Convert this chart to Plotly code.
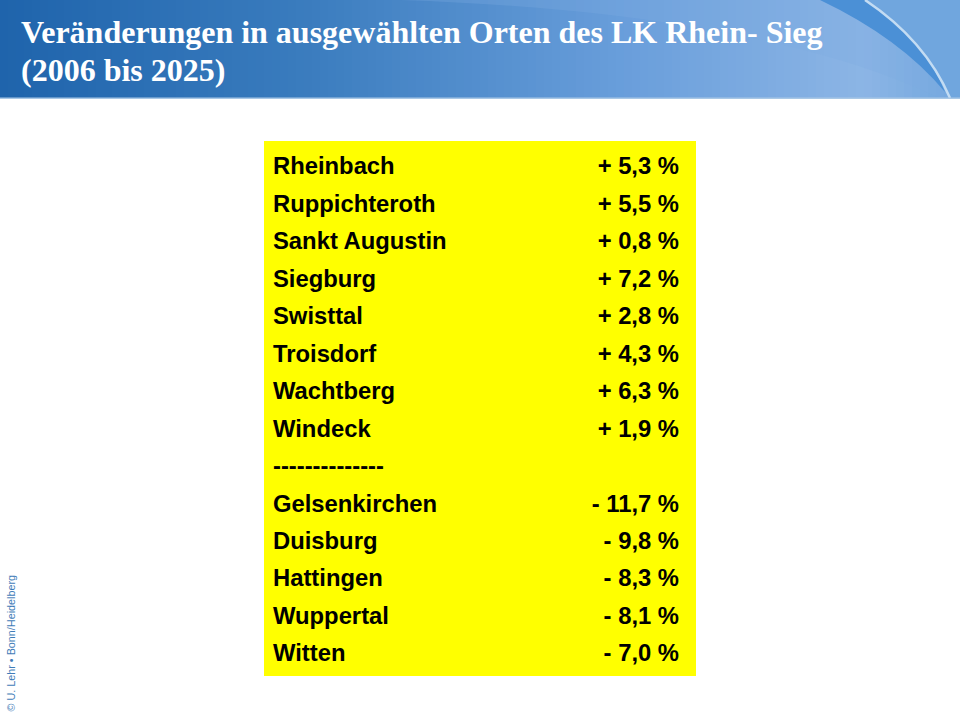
import plotly.graph_objects as go

TITLE_LINES = ["Veränderungen in ausgewählten Orten des LK Rhein- Sieg", "(2006 bis 2025)"]
PLACES = ["Rheinbach", "Ruppichteroth", "Sankt Augustin", "Siegburg", "Swisttal", "Troisdorf",
          "Wachtberg", "Windeck", "--------------", "Gelsenkirchen", "Duisburg", "Hattingen",
          "Wuppertal", "Witten"]
CHANGES = ["+ 5,3 %", "+ 5,5 %", "+ 0,8 %", "+ 7,2 %", "+ 2,8 %", "+ 4,3 %", "+ 6,3 %", "+ 1,9 %", "",
           "- 11,7 %", "- 9,8 %", "- 8,3 %", "- 8,1 %", "- 7,0 %"]
ROWS = list(range(len(PLACES)))
CREDIT = "© U. Lehr • Bonn/Heidelberg"


def mix(a, b, t):
    return "rgb(%d,%d,%d)" % tuple(round(a[i] + (b[i] - a[i]) * t) for i in range(3))


STOPS = [(0, (31, 100, 172)), (300, (58, 124, 190)), (620, (105, 158, 219)),
         (860, (140, 181, 229)), (960, (112, 166, 222))]

shapes = []
step = 8
for x in range(0, 960, step):
    for (x0, c0), (x1, c1) in zip(STOPS, STOPS[1:]):
        if x0 <= x <= x1:
            col = mix(c0, c1, (x - x0) / (x1 - x0))
            break
    shapes.append(dict(type="rect", xref="x", yref="paper", x0=x, x1=x + step, y0=1 - 98 / 720, y1=1,
                       fillcolor=col, line_width=0, layer="below"))

P = lambda y: 720 - y  # header decoration is laid out in pixels from the top
shapes += [
    # plain area right of the swoosh
    dict(type="path", xref="x", yref="y2",
         path=f"M 865,{P(0)} Q 925,{P(40)} 950,{P(98)} L 960,{P(98)} L 960,{P(0)} Z",
         fillcolor="#70a6de", line_width=0, layer="below"),
    # soft light arc sweeping to the lower right
    dict(type="path", xref="x", yref="y2",
         path=f"M 400,{P(0)} Q 760,{P(12)} 940,{P(98)} L 950,{P(98)} Q 905,{P(30)} 820,{P(0)} Z",
         fillcolor="rgba(125,172,226,0.30)", line_width=0, layer="below"),
    # dark swoosh
    dict(type="path", xref="x", yref="y2",
         path=f"M 820,{P(0)} Q 900,{P(38)} 945,{P(92)} Q 925,{P(40)} 865,{P(0)} Z",
         fillcolor="#4b90d6", line_width=0, layer="below"),
    # bright edge of the swoosh
    dict(type="path", xref="x", yref="y2",
         path=f"M 865,{P(0)} Q 925,{P(40)} 950,{P(98)}",
         line=dict(color="#c3dcf3", width=2.5), layer="below"),
    # thin rule below the header
    dict(type="rect", xref="x", yref="y2", x0=0, x1=960, y0=P(99), y1=P(97.5),
         fillcolor="#a9c8e6", line_width=0, layer="below"),
    # yellow panel
    dict(type="rect", xref="x", yref="y2", x0=264, x1=696, y0=P(676), y1=P(141),
         fillcolor="#ffff00", line_width=0, layer="below"),
]

fig = go.Figure()
FONT = dict(family="Liberation Sans", size=23.8, color="#000000")
fig.add_trace(go.Scatter(x=[273] * len(PLACES), y=ROWS, text=[f"<b>{t}</b>" for t in PLACES],
                         mode="text", textposition="middle right", textfont=FONT,
                         hoverinfo="skip", showlegend=False))
fig.add_trace(go.Scatter(x=[679] * len(CHANGES), y=ROWS, text=[f"<b>{t}</b>" for t in CHANGES],
                         mode="text", textposition="middle left", textfont=FONT,
                         hoverinfo="skip", showlegend=False))

annotations = [
    dict(x=19, y=P(32 + i * 38), xref="x", yref="y2", text=f"<b>{t}</b>", showarrow=False,
         xanchor="left", yanchor="middle",
         font=dict(family="Liberation Serif", size=32, color="#ffffff"))
    for i, t in enumerate(TITLE_LINES)
]
annotations.append(dict(x=10, y=P(714), xref="x", yref="y2", text=CREDIT, showarrow=False, textangle=-90,
                        xanchor="center", yanchor="bottom",
                        font=dict(family="Liberation Sans", size=10.8, color="#3f7cb8")))

PITCH = 37.46
TOP = 168.5
fig.update_layout(
    width=960, height=720, margin=dict(l=0, r=0, t=0, b=0),
    paper_bgcolor="#ffffff", plot_bgcolor="#ffffff",
    shapes=shapes, annotations=annotations, showlegend=False,
    xaxis=dict(range=[0, 960], visible=False, fixedrange=True),
    yaxis=dict(range=[(720 - TOP) / PITCH, -TOP / PITCH], visible=False, fixedrange=True),
    yaxis2=dict(range=[0, 720], visible=False, overlaying="y", fixedrange=True),
)
fig.write_html("out.html", config=dict(displayModeBar=False),
               post_script="document.body.style.margin='0';document.body.style.overflow='hidden';")
